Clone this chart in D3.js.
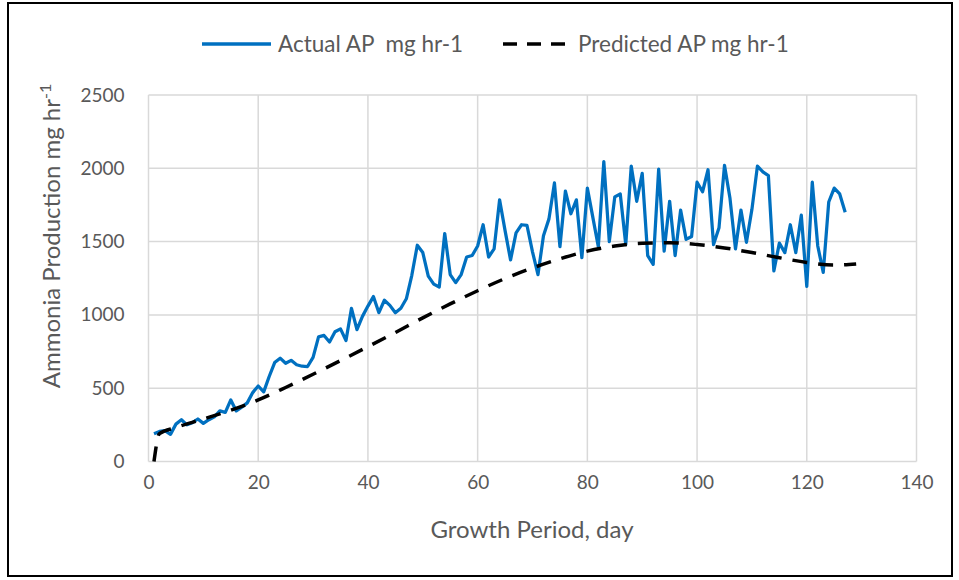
<!DOCTYPE html>
<html>
<head>
<meta charset="utf-8">
<script src="https://cdn.jsdelivr.net/npm/d3@7/dist/d3.min.js"></script>
<style>
  html, body { margin: 0; padding: 0; background: #fff; }
  svg { display: block; font-family: Lato, "Open Sans", sans-serif; }
  text { white-space: pre; }
</style>
</head>
<body>
<svg id="chart" width="959" height="580"></svg>
<script>
// ---- data ----
const actualDays = d3.range(1, 128);
const actualValues = [
  190, 205, 210, 185, 255, 285, 250, 265, 290, 260,
  285, 305, 345, 335, 420, 345, 370, 400, 470, 515,
  475, 580, 675, 705, 670, 690, 660, 650, 648, 710,
  850, 860, 815, 885, 905, 825, 1045, 900, 990, 1060,
  1125, 1015, 1100, 1065, 1015, 1045, 1110, 1270, 1475, 1425,
  1265, 1210, 1190, 1555, 1275, 1220, 1275, 1395, 1405, 1470,
  1615, 1395, 1450, 1785, 1575, 1375, 1560, 1615, 1610, 1430,
  1275, 1540, 1655, 1900, 1465, 1845, 1690, 1785, 1390, 1865,
  1665, 1465, 2045, 1500, 1805, 1825, 1480, 2015, 1775, 1965,
  1405, 1345, 1995, 1435, 1775, 1405, 1715, 1515, 1535, 1905,
  1840, 1990, 1480, 1595, 2020, 1795, 1450, 1715, 1495, 1720,
  2015, 1975, 1950, 1300, 1490, 1425, 1615, 1425, 1680, 1195,
  1905, 1470, 1290, 1770, 1865, 1825, 1700
];
const predictedDays   = [1, 2, 5, 10, 15, 20, 25, 30, 35, 40, 45, 50, 55, 60, 65, 70, 75, 80, 85, 90, 95, 100, 105, 110, 115, 120, 125, 129];
const predictedValues = [0, 190, 232, 290, 350, 420, 505, 595, 688, 783, 880, 980, 1075, 1165, 1248, 1320, 1383, 1435, 1470, 1488, 1492, 1480, 1457, 1425, 1390, 1358, 1340, 1348];
const xTicks = [0, 20, 40, 60, 80, 100, 120, 140];
const yTicks = [0, 500, 1000, 1500, 2000, 2500];
const seriesNames = ["Actual AP  mg hr-1", "Predicted AP mg hr-1"];

// ---- layout ----
const svg = d3.select("#chart");
const pLeft = 148.5, pRight = 916.5, pTop = 95, pBottom = 461.5;
const textColor = "#595959";
const gridColor = "#d9d9d9";
const blue = "#0070C0";

const x = d3.scaleLinear().domain([0, 140]).range([pLeft, pRight]);
const y = d3.scaleLinear().domain([0, 2500]).range([pBottom, pTop]);

// outer border
svg.append("rect")
  .attr("x", 8).attr("y", 3).attr("width", 944).attr("height", 573)
  .attr("fill", "#fff").attr("stroke", "#000").attr("stroke-width", 2);

// grid
const gx = svg.append("g");
gx.selectAll("line.v").data(xTicks).join("line")
  .attr("x1", d => x(d)).attr("x2", d => x(d))
  .attr("y1", pTop).attr("y2", pBottom)
  .attr("stroke", gridColor).attr("stroke-width", 1.5);
gx.selectAll("line.h").data(yTicks).join("line")
  .attr("x1", pLeft).attr("x2", pRight)
  .attr("y1", d => y(d)).attr("y2", d => y(d))
  .attr("stroke", gridColor).attr("stroke-width", 1.5);

// axes (labels only, via d3 axis)
const xAxis = d3.axisBottom(x).tickValues(xTicks).tickFormat(d3.format("d")).tickSize(0).tickPadding(14);
const xg = svg.append("g").attr("transform", `translate(0,${pBottom})`).call(xAxis);
xg.select(".domain").remove();
xg.selectAll("text").attr("fill", textColor).style("font-size", "19px").style("font-family", "Lato");

const yAxis = d3.axisLeft(y).tickValues(yTicks).tickFormat(d3.format("d")).tickSize(0).tickPadding(24);
const yg = svg.append("g").attr("transform", `translate(${pLeft},0)`).call(yAxis);
yg.select(".domain").remove();
yg.selectAll("text").attr("fill", textColor).style("font-size", "19px").style("font-family", "Lato");

// axis titles
svg.append("text")
  .attr("x", 532).attr("y", 538)
  .attr("text-anchor", "middle").attr("fill", textColor)
  .style("font-size", "24px")
  .text("Growth Period, day");

const yt = svg.append("text")
  .attr("transform", `translate(60,${(392 + 80) / 2}) rotate(-90)`)
  .attr("text-anchor", "middle").attr("fill", textColor)
  .style("font-size", "24px");
yt.append("tspan").text("Ammonia Production mg hr");
yt.append("tspan").attr("dy", -9).style("font-size", "16px").text("-1");

// lines
const actualData = actualDays.map((d, i) => [d, actualValues[i]]);
const predictedData = predictedDays.map((d, i) => [d, predictedValues[i]]);

svg.append("path")
  .datum(actualData)
  .attr("fill", "none").attr("stroke", blue).attr("stroke-width", 3.25)
  .attr("stroke-linejoin", "round")
  .attr("d", d3.line().x(d => x(d[0])).y(d => y(d[1])));

svg.append("path")
  .datum(predictedData)
  .attr("fill", "none").attr("stroke", "#000").attr("stroke-width", 3.5)
  .attr("stroke-dasharray", "15,11")
  .attr("d", d3.line().x(d => x(d[0])).y(d => y(d[1])).curve(d3.curveMonotoneX));

// legend
const lg = svg.append("g");
lg.append("line").attr("x1", 202).attr("x2", 271).attr("y1", 44).attr("y2", 44)
  .attr("stroke", blue).attr("stroke-width", 3.5);
lg.append("text").attr("x", 278).attr("y", 51.5).attr("fill", textColor)
  .style("font-size", "22.5px").text(seriesNames[0]);
lg.append("line").attr("x1", 503).attr("x2", 570).attr("y1", 44).attr("y2", 44)
  .attr("stroke", "#000").attr("stroke-width", 3.5).attr("stroke-dasharray", "14,10");
lg.append("text").attr("x", 578).attr("y", 51.5).attr("fill", textColor)
  .style("font-size", "22.5px").text(seriesNames[1]);
</script>
</body>
</html>
